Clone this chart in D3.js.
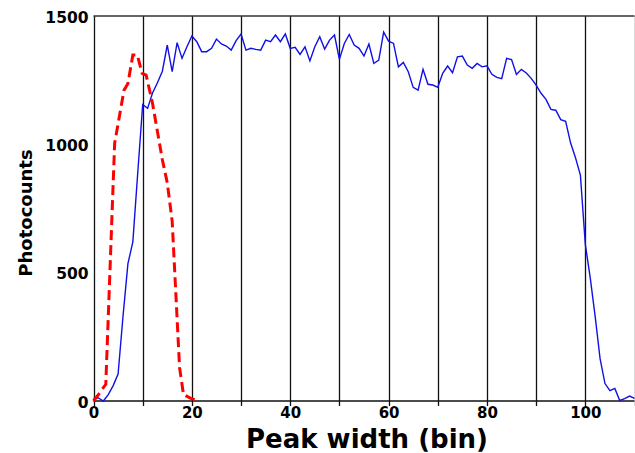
<!DOCTYPE html>
<html><head><meta charset="utf-8">
<script src="https://cdn.jsdelivr.net/npm/d3@7"></script>
<style>
html,body{margin:0;padding:0;background:#fff;}
svg{display:block;}
text{font-family:"DejaVu Sans",Verdana,sans-serif;font-weight:bold;fill:#000;}
</style></head>
<body>
<svg id="chart" width="635" height="453"></svg>
<script>
// Blue series: photocounts per bin 0..110
const blueBins = d3.range(0, 111);
const blueValues = [
  10, 12, 0, 25, 60, 105, 330, 535, 620, 890,
  1155, 1140, 1200, 1240, 1285, 1387, 1283, 1396, 1335, 1380,
  1422, 1400, 1361, 1361, 1374, 1410, 1391, 1383, 1367, 1404,
  1430, 1367, 1374, 1370, 1367, 1406, 1400, 1426, 1400, 1430,
  1374, 1378, 1350, 1380, 1325, 1380, 1419, 1371, 1406, 1426,
  1331, 1393, 1428, 1387, 1374, 1344, 1391, 1315, 1328, 1437,
  1402, 1393, 1302, 1319, 1283, 1222, 1211, 1292, 1234, 1231,
  1222, 1277, 1305, 1279, 1341, 1344, 1309, 1296, 1315, 1302,
  1306, 1273, 1261, 1256, 1335, 1330, 1272, 1292, 1278, 1257,
  1231, 1199, 1175, 1136, 1133, 1096, 1090, 1006, 948, 880,
  610, 480, 330, 165, 68, 40, 49, 2, 9, 19, 10
];
// Red dashed series (reference peak)
const redBins   = [0, 1, 2.5, 4.3, 6.2, 7, 8, 8.9, 9.9, 10.7, 12, 14, 15, 16, 17.5, 18.3, 19.8, 21.5];
const redValues = [0, 25, 65, 1004, 1211, 1237, 1348, 1348, 1276, 1270, 1160, 940, 850, 700, 130, 25, 10, 0];

const xGridTicks = d3.range(0, 111, 10);
const xLabelTicks = [0, 20, 40, 60, 80, 100];
const yTicks = [0, 500, 1000, 1500];
const xTitle = "Peak width (bin)";
const yTitle = "Photocounts";

const svg = d3.select("#chart");
const pLeft = 93.5, pRight = 634.5, pTop = 16, pBottom = 401;
const x = d3.scaleLinear().domain([0, 110]).range([pLeft, pRight]);
const y = d3.scaleLinear().domain([0, 1500]).range([pBottom, pTop]);

// vertical grid lines (extend slightly below axis)
svg.append("g").selectAll("line").data(xGridTicks).join("line")
  .attr("x1", d => Math.round(x(d)) + 0.5).attr("x2", d => Math.round(x(d)) + 0.5)
  .attr("y1", pTop).attr("y2", pBottom + 5)
  .attr("stroke", "#111").attr("stroke-width", 1.3);

// frame: top and bottom
svg.append("line").attr("x1", pLeft).attr("x2", pRight).attr("y1", pTop).attr("y2", pTop)
  .attr("stroke", "#333").attr("stroke-width", 1.5);
svg.append("line").attr("x1", pLeft).attr("x2", pRight).attr("y1", pBottom).attr("y2", pBottom)
  .attr("stroke", "#111").attr("stroke-width", 1.5);

// x tick labels
const xAxis = d3.axisBottom(x).tickValues(xLabelTicks).tickSize(0).tickPadding(0).tickFormat(d3.format("d"));
const gx = svg.append("g").attr("transform", `translate(0,${pBottom + 6})`).call(xAxis);
gx.select(".domain").remove();
gx.selectAll("text").style("font-size", "15px").style("font-family", "DejaVu Sans").style("font-weight", "bold").attr("dy", "0.71em");

// y tick labels
const yAxis = d3.axisLeft(y).tickValues(yTicks).tickSize(0).tickPadding(5).tickFormat(d3.format("d"));
const gy = svg.append("g").attr("transform", `translate(${pLeft},0)`).call(yAxis);
gy.select(".domain").remove();
gy.selectAll("text").style("font-size", "15.5px").style("font-family", "DejaVu Sans").style("font-weight", "bold").attr("dy", "0.4em");

// lines
const line = d3.line().x(d => x(d[0])).y(d => y(d[1]));
svg.append("path")
  .datum(blueBins.map((b, i) => [b, blueValues[i]]))
  .attr("d", line).attr("fill", "none").attr("stroke", "#1010e6").attr("stroke-width", 1.4);
svg.append("path")
  .datum(redBins.map((b, i) => [b, redValues[i]]))
  .attr("d", line).attr("fill", "none").attr("stroke", "#ff0000").attr("stroke-width", 3)
  .attr("stroke-dasharray", "10,5");

// titles
svg.append("text").attr("x", 367).attr("y", 448).attr("text-anchor", "middle")
  .style("font-size", "26px").text(xTitle);
svg.append("text").attr("transform", "translate(32,213) rotate(-90)").attr("text-anchor", "middle")
  .style("font-size", "18px").text(yTitle);
</script>
</body></html>
